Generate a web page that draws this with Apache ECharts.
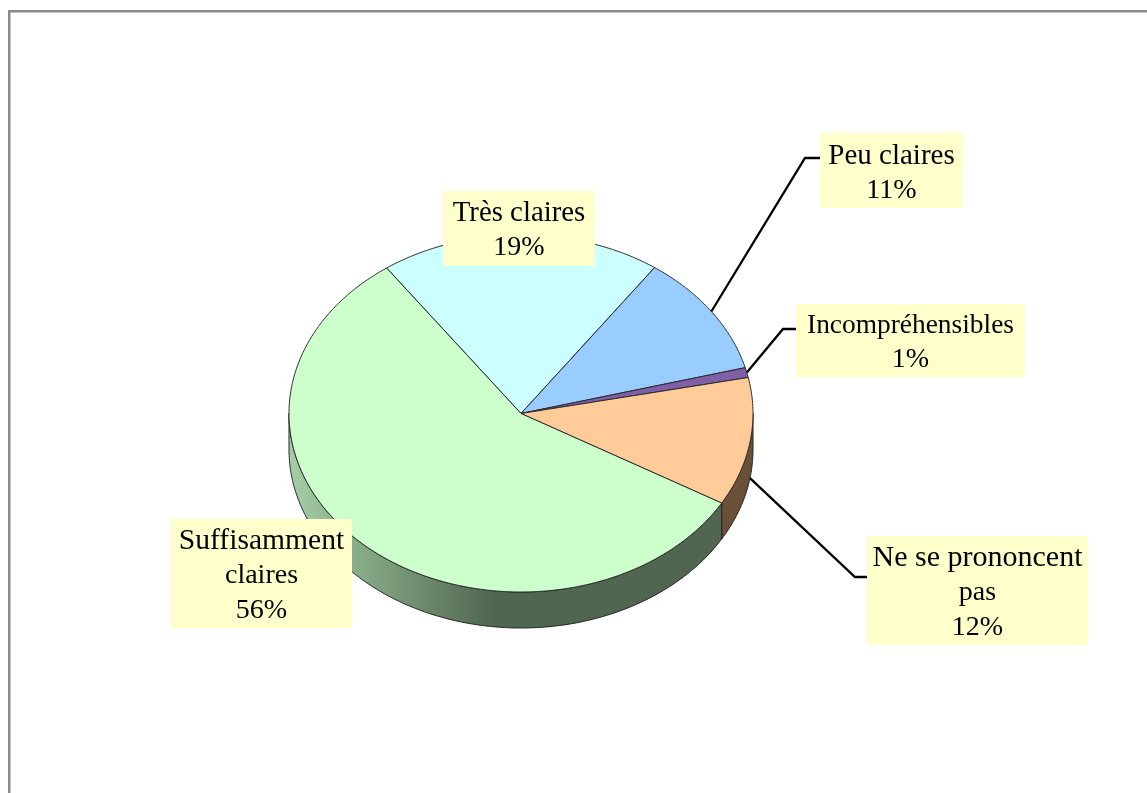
<!DOCTYPE html>
<html><head><meta charset="utf-8">
<style>html,body{margin:0;padding:0;background:#fff}#c{width:1147px;height:793px}</style>
<script src="https://cdn.jsdelivr.net/npm/echarts@6/dist/echarts.min.js"></script>
</head><body><div id="c"></div>
<script>
var categories = ['Très claires', 'Peu claires', 'Incompréhensibles', 'Ne se prononcent pas', 'Suffisamment claires'];
var shares = [19.6, 11.1, 0.9, 11.6, 56.8];
var percentLabels = ['19%', '11%', '1%', '12%', '56%'];
var labelLines = [['Très claires'], ['Peu claires'], ['Incompréhensibles'], ['Ne se prononcent', 'pas'], ['Suffisamment', 'claires']];

var colors = ['#CCFFFF', '#99CCFF', '#7F60A8', '#FFCC99', '#CCFFCC'];
var sideColors = ['#668080', '#4D6680', '#403054', '#6B5039', null];
var PIE = {cx: 521, cy: 413.5, rx: 232, ry: 178.5, depth: 36, startDeg: 125.4};
var BOXES = [
  {x: 443, y: 191, w: 152, h: 75, line: 34.5, first: 213.5, size: 28.8},
  {x: 820, y: 133, w: 143, h: 75, line: 34.5, first: 156.5, size: 29},
  {x: 796, y: 304, w: 229, h: 73, line: 33.5, first: 326, size: 27.4},
  {x: 867, y: 536, w: 221, h: 109, line: 34.5, first: 558.5, size: 30},
  {x: 171, y: 519, w: 181, h: 109, line: 34.5, first: 541.5, size: 29.6}
];
var ELBOWS = [null, [[805, 158], [820, 158]], [[783, 329], [796, 329]], [[855, 577], [867, 577]], null];

var total = shares.reduce(function (a, b) { return a + b; }, 0);
var starts = [];
shares.reduce(function (acc, v, i) { starts[i] = acc; return acc + v; }, 0);
function sliceAngles(i, value) {
  var t1 = PIE.startDeg - starts[i] / total * 360;
  return [t1, t1 - value / total * 360];
}
function pt(deg, dy) {
  var r = deg * Math.PI / 180;
  return [PIE.cx + PIE.rx * Math.cos(r), PIE.cy - PIE.ry * Math.sin(r) + (dy || 0)];
}
function arc(a, b, dy) {
  var n = Math.max(2, Math.ceil(Math.abs(a - b) * 2)), out = [];
  for (var k = 0; k <= n; k++) out.push(pt(a + (b - a) * k / n, dy));
  return out;
}
var sideGradient = new echarts.graphic.LinearGradient(0, 0, 1, 0, [
  {offset: 0, color: '#A6CEA6'},
  {offset: 0.14, color: '#8CB08C'},
  {offset: 0.47, color: '#506650'},
  {offset: 1, color: '#506650'}
]);

function renderSlice(params, api) {
  var i = params.dataIndex, ang = sliceAngles(i, api.value(0));
  var children = [];
  var up = Math.min(ang[0], 0), low = Math.max(ang[1], -180);
  if (up > low) {
    var pts = arc(up, low, 0).concat(arc(low, up, PIE.depth));
    children.push({
      type: 'polygon', shape: {points: pts},
      style: {fill: sideColors[i] || sideGradient, stroke: '#222', lineWidth: 1}
    });
  }
  children.push({
    type: 'polygon', shape: {points: [[PIE.cx, PIE.cy]].concat(arc(ang[0], ang[1], 0))},
    style: {fill: colors[i], stroke: '#2A2A2A', lineWidth: 1}
  });
  return {type: 'group', children: children};
}
function renderLabel(params, api) {
  var i = params.dataIndex, ang = sliceAngles(i, api.value(0)), b = BOXES[i], children = [];
  if (ELBOWS[i]) {
    var mid = (ang[0] + ang[1]) / 2;
    var pts = [pt(mid, Math.sin(mid * Math.PI / 180) < 0 ? PIE.depth : 0)].concat(ELBOWS[i]);
    children.push({type: 'polyline', shape: {points: pts}, style: {fill: 'none', stroke: '#000', lineWidth: 2.3}});
  }
  children.push({type: 'rect', shape: {x: b.x, y: b.y, width: b.w, height: b.h}, style: {fill: '#FFFFCC'}});
  var lines = labelLines[i].concat([percentLabels[i]]);
  lines.forEach(function (t, k) {
    var size = k === 0 ? b.size : 28;
    children.push({type: 'text', style: {
      x: b.x + b.w / 2, y: b.first + k * b.line,
      text: t, fill: '#000', font: size + 'px "Liberation Serif"', align: 'center', verticalAlign: 'middle'
    }});
  });
  return {type: 'group', children: children};
}
var rows = shares.map(function (v) { return [v]; });
var chart = echarts.init(document.getElementById('c'), null, {renderer: 'canvas'});
chart.setOption({
  animation: false,
  backgroundColor: '#fff',
  graphic: [
    {type: 'rect', shape: {x: 8, y: 10, width: 1139, height: 2.5}, style: {fill: '#8A8A8A'}},
    {type: 'rect', shape: {x: 8, y: 10, width: 2.5, height: 783}, style: {fill: '#8A8A8A'}}
  ],
  series: [
    {type: 'custom', coordinateSystem: 'none', name: 'parts', data: rows, renderItem: renderSlice, silent: true, z: 2},
    {type: 'custom', coordinateSystem: 'none', name: 'labels', data: rows, renderItem: renderLabel, silent: true, z: 3}
  ]
});
</script></body></html>
